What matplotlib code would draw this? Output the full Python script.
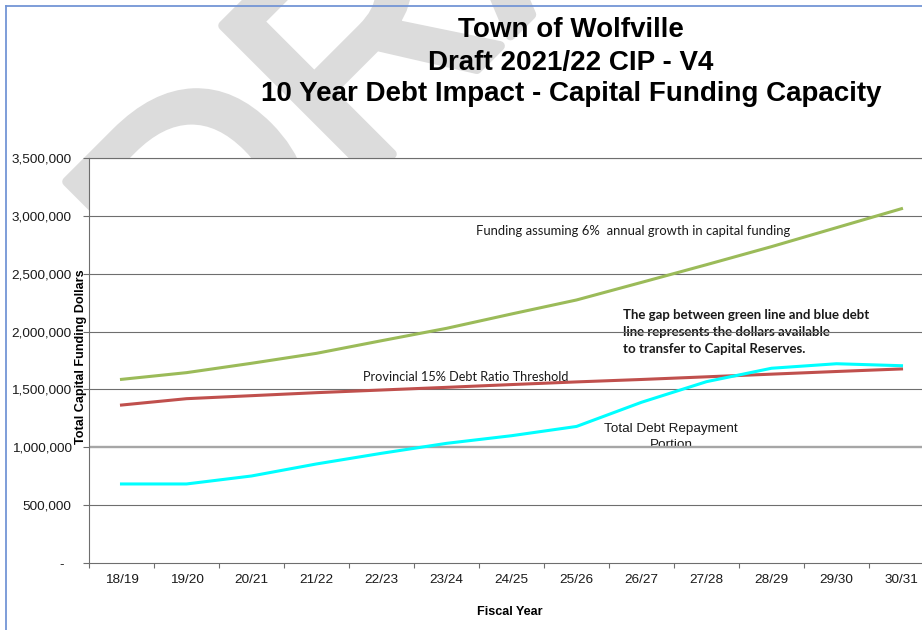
import matplotlib
matplotlib.use("Agg")
import matplotlib.pyplot as plt
import matplotlib.patheffects as pe
from matplotlib.lines import Line2D
from matplotlib.ticker import FuncFormatter, FixedLocator

# fiscal years and the three series (dollars)
years = ["18/19", "19/20", "20/21", "21/22", "22/23", "23/24", "24/25",
         "25/26", "26/27", "27/28", "28/29", "29/30", "30/31"]
funding = [1587000, 1645000, 1726000, 1812000, 1921000, 2028000, 2152000,
           2273000, 2425000, 2578000, 2734000, 2898000, 3062000]
threshold = [1365000, 1420000, 1446000, 1472000, 1495000, 1518000, 1542000,
             1565000, 1586000, 1609000, 1632000, 1655000, 1677000]
debt = [683000, 683000, 752000, 856000, 948000, 1034000, 1100000,
        1180000, 1389000, 1567000, 1683000, 1722000, 1705000]

yticks = [0, 500000, 1000000, 1500000, 2000000, 2500000, 3000000, 3500000]

plt.rcParams['font.family'] = ['Liberation Sans', 'DejaVu Sans']

W, H = 922, 630
fig = plt.figure(figsize=(W / 100, H / 100), dpi=100)

# faint DRAFT watermark behind the plot area
wm_col = '#dcdcdc'
fig.text(198 / W, 1 - 348 / H, "DRAFT", rotation=45, rotation_mode='anchor',
         ha='left', va='baseline', fontsize=220, color=wm_col, zorder=-5,
         family=['Liberation Sans Narrow', 'Liberation Sans'],
         path_effects=[pe.withStroke(linewidth=7, foreground=wm_col)])

# blue frame (left and top edges visible)
frame_col = '#7395d5'
fig.add_artist(Line2D([6 / W, 6 / W], [0, 1 - 6 / H], color=frame_col, lw=1.3,
                      transform=fig.transFigure))
fig.add_artist(Line2D([6 / W, 1], [1 - 6 / H, 1 - 6 / H], color=frame_col, lw=1.3,
                      transform=fig.transFigure))

ax = fig.add_axes([89 / W, 67 / H, 845 / W, 405 / H])
ax.set_facecolor('white')

x = range(len(years))
grid_col = '#6e6e6e'
for v in yticks[1:]:
    if v == 1000000:
        ax.axhline(v, color='#a6a6a6', lw=1.7, zorder=1)
    else:
        ax.axhline(v, color=grid_col, lw=0.8, zorder=1)

ax.plot(x, funding, color='#9bbb59', lw=2.2, zorder=3)
ax.plot(x, threshold, color='#c0504d', lw=2.2, zorder=3)
ax.plot(x, debt, color='#00ffff', lw=2.2, zorder=3)

ax.set_xlim(-0.5, len(years) - 0.5)
ax.set_ylim(0, 3500000)

ax.spines['right'].set_visible(False)
for s in ['left', 'bottom', 'top']:
    ax.spines[s].set_color(grid_col)
    ax.spines[s].set_linewidth(0.8)

ax.set_yticks(yticks)
ax.yaxis.set_major_formatter(FuncFormatter(lambda v, p: "-  " if v == 0 else f"{int(v):,}"))
ax.tick_params(axis='y', direction='out', length=4, width=0.8, color=grid_col,
               pad=8.5, labelsize=9.7, labelcolor='#1a1a1a')

ax.set_xticks(list(x))
ax.set_xticklabels(years)
ax.xaxis.set_minor_locator(FixedLocator([i - 0.5 for i in range(len(years) + 1)]))
ax.tick_params(axis='x', which='major', length=0, pad=8, labelsize=9.7,
               labelcolor='#1a1a1a')
ax.tick_params(axis='x', which='minor', direction='out', length=3.5, width=0.8,
               color=grid_col)

# titles
fig.text(571 / W, 1 - 37 / H, "Town of Wolfville", ha='center', va='baseline',
         fontsize=20, fontweight='bold')
fig.text(571 / W, 1 - 70 / H, "Draft 2021/22 CIP - V4", ha='center', va='baseline',
         fontsize=20, fontweight='bold')
fig.text(571 / W, 1 - 101 / H, "10 Year Debt Impact - Capital Funding Capacity",
         ha='center', va='baseline', fontsize=20, fontweight='bold')

fig.text(81 / W, 1 - 357 / H, "Total Capital Funding Dollars", rotation=90,
         ha='center', va='center', fontsize=9.1, fontweight='bold')
fig.text(510 / W, 1 - 612 / H, "Fiscal Year", ha='center', va='center',
         fontsize=9.1, fontweight='bold')

# annotations inside the plot
note_font = ['Lato', 'DejaVu Sans']
ax.text(5.45, 2872000, "Funding assuming 6%  annual growth in capital funding",
        ha='left', va='center', fontsize=9.4, family=note_font, color='#1a1a1a', zorder=4)
ax.text(3.715, 1605000, "Provincial 15% Debt Ratio Threshold",
        ha='left', va='center', fontsize=9.2, family=note_font, color='#1a1a1a', zorder=4)
ax.text(7.715, 1996000, "The gap between green line and blue debt\n"
        "line represents the dollars available\n"
        "to transfer to Capital Reserves.",
        ha='left', va='center', fontsize=9.5, fontweight='bold', family=note_font,
        linespacing=1.47, color='#1a1a1a', zorder=0.5)
ax.text(8.454, 1089000, "Total Debt Repayment\nPortion", ha='center', va='center',
        fontsize=9.7, linespacing=1.5, color='#1a1a1a', zorder=0.5)

fig.savefig("out.png", dpi=100)
